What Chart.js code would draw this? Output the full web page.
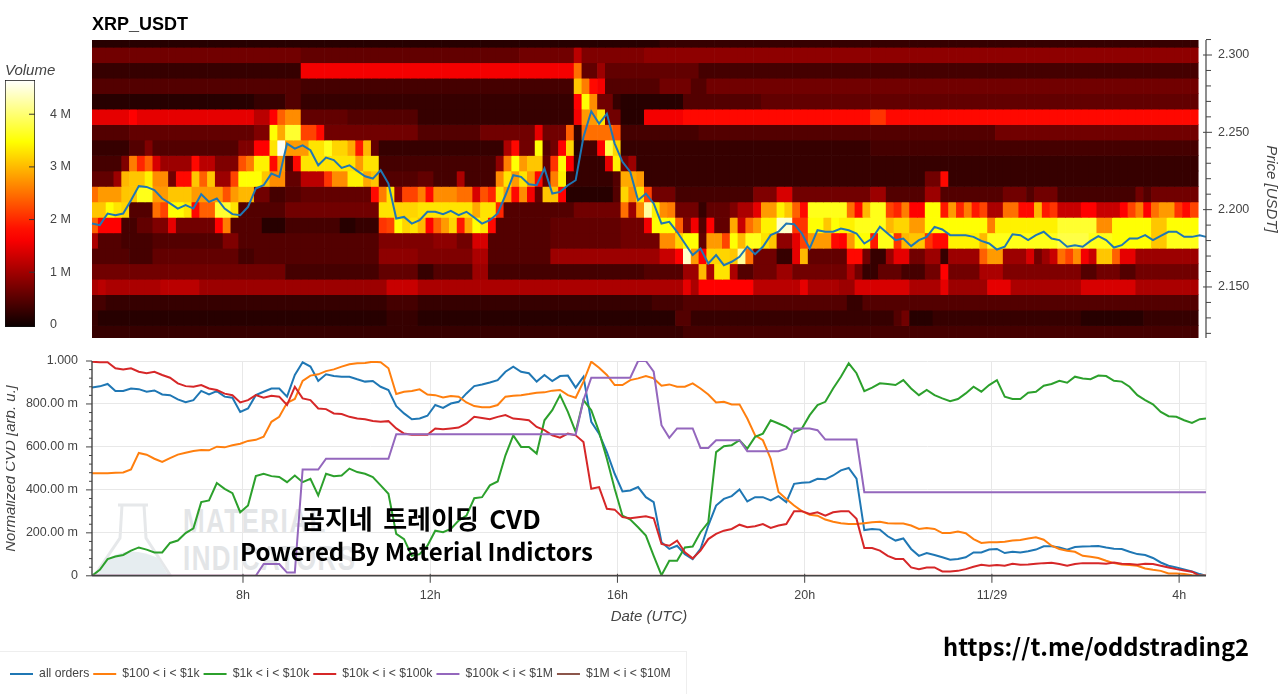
<!DOCTYPE html>
<html>
<head>
<meta charset="utf-8">
<title>XRP_USDT</title>
<script src="https://cdn.jsdelivr.net/npm/chart.js@4"></script>
<style>
  html, body { margin: 0; padding: 0; background: #fff; }
  body { width: 1280px; height: 694px; overflow: hidden; position: relative; font-family: "Liberation Sans", sans-serif; }
  canvas { position: absolute; }
  .label { position: absolute; white-space: nowrap; color: #000; }
  #title { left: 92px; top: 14px; font-size: 18px; font-weight: bold; }
  #legendBox { position: absolute; left: -2px; top: 651px; width: 687px; height: 60px; border: 1px solid #eee; }
  .mark { color: #e3e5e7; font-weight: bold; font-size: 35px; letter-spacing: 2px; transform: scaleX(0.74); transform-origin: left top; }
  .caption { font-family: "Noto Sans CJK KR", "Noto Sans", sans-serif; font-weight: 700; }
</style>
</head>
<body>
<div id="legendBox"></div>
<svg style="position:absolute;left:92px;top:500px" width="90" height="78">
  <path d="M26 5 L56 5 M30 5 L28 38 L3 75 L78 75 L54 38 L52 5" fill="none" stroke="#e6e8ea" stroke-width="3"/>
  <path d="M14 60 Q36 44 66 58 L76 75 L6 75 Z" fill="#e6edf0"/>
</svg>
<div class="label mark" style="left:183px;top:501px">MATERIAL</div>
<div class="label mark" style="left:183px;top:538px">INDICATORS</div>

<canvas id="volumeBar" style="left:5px;top:60px" width="90" height="290"></canvas>
<canvas id="heatChart" style="left:0;top:30px" width="1280" height="320"></canvas>
<canvas id="cvdChart" style="left:6px;top:350px" width="1274" height="344"></canvas>

<div id="title" class="label">XRP_USDT</div>
<div class="label caption" style="left:301px;top:499px;font-size:26px;word-spacing:4.5px">곰지네 트레이딩 CVD</div>
<div class="label caption" style="left:240px;top:533px;font-size:24px">Powered By Material Indictors</div>
<div class="label caption" style="left:943px;top:629px;font-size:23.7px">https://t.me/oddstrading2</div>

<script>
// ================================
// heatmap rows, runs of [volume in 0.1 M, number of 10 min columns]
// ================================
const rowPrices = [2.31, 2.30, 2.29, 2.28, 2.27, 2.26, 2.25, 2.24, 2.23, 2.22, 2.21, 2.20, 2.19, 2.18, 2.17, 2.16, 2.15, 2.14, 2.13, 2.12];

const row231 = [[2,73],[3,69]];
const row230 = [[7,27],[6,28],[7,7],[12,1],[8,8],[9,71]];
const row229 = [[3,27],[16,35],[25,1],[6,2],[10,1],[6,12],[4,64]];
const row228 = [[5,27],[4,35],[31,1],[26,1],[18,1],[16,1],[5,7],[7,4],[5,2],[7,63]];
const row227 = [[2,21],[3,4],[5,2],[3,35],[17,1],[35,1],[27,1],[7,2],[3,1],[2,8],[5,10],[6,56]];
const row226 = [[15,5],[17,1],[15,15],[12,2],[17,1],[24,1],[27,2],[6,6],[5,9],[3,20],[16,1],[28,2],[33,1],[7,2],[2,3],[16,5],[18,24],[21,2],[18,40]];
const row225 = [[5,5],[6,16],[8,2],[35,1],[29,1],[37,2],[22,2],[18,1],[7,12],[5,8],[7,7],[15,1],[7,3],[24,1],[3,1],[25,4],[23,1],[4,10],[5,38],[7,26]];
const row224 = [[3,5],[5,2],[8,1],[5,11],[8,2],[17,2],[33,1],[46,1],[28,3],[33,2],[36,1],[32,2],[29,1],[19,1],[30,1],[6,1],[3,5],[3,11],[11,1],[18,1],[7,2],[35,1],[5,1],[7,1],[17,1],[32,1],[2,1],[4,2],[17,1],[38,1],[32,1],[3,32],[4,42]];
const row223 = [[4,4],[8,1],[26,1],[20,1],[24,1],[14,1],[10,4],[18,1],[12,2],[8,3],[23,1],[26,1],[34,2],[18,1],[28,1],[5,1],[18,1],[33,7],[28,1],[33,2],[4,5],[4,10],[9,1],[26,1],[35,1],[28,1],[31,2],[6,1],[21,1],[35,1],[17,1],[3,4],[15,1],[34,1],[7,1],[10,1],[3,72]];
const row222 = [[6,3],[10,1],[30,1],[31,2],[34,1],[27,2],[7,1],[18,2],[31,1],[24,1],[31,1],[10,2],[22,1],[35,3],[31,1],[27,2],[6,2],[12,3],[21,1],[27,2],[34,2],[29,1],[31,1],[5,5],[6,2],[4,3],[11,1],[4,4],[27,1],[33,1],[28,1],[33,1],[28,1],[18,1],[6,1],[26,1],[34,1],[4,1],[3,5],[5,1],[29,2],[28,1],[3,36],[7,2],[18,1],[3,32]];
const row221 = [[25,1],[28,3],[31,2],[36,2],[28,2],[31,3],[28,4],[23,1],[28,1],[30,2],[7,2],[4,2],[5,2],[6,9],[18,1],[26,1],[33,1],[9,1],[22,2],[26,1],[18,1],[27,3],[25,2],[14,1],[23,1],[20,1],[33,1],[28,1],[18,1],[27,1],[16,1],[6,1],[31,2],[17,1],[2,6],[5,1],[32,1],[27,1],[33,1],[22,1],[7,3],[4,10],[8,3],[14,2],[7,10],[10,2],[5,5],[10,2],[5,8],[7,3],[5,1],[7,3],[4,10],[7,1],[5,1],[7,6]];
const row220 = [[31,2],[35,1],[33,1],[32,1],[5,3],[25,1],[22,1],[35,2],[33,1],[18,1],[24,2],[37,2],[33,1],[5,6],[7,12],[33,1],[33,1],[32,3],[33,7],[29,1],[33,2],[20,1],[5,9],[7,6],[25,1],[10,1],[27,1],[42,1],[34,1],[27,1],[26,1],[7,3],[3,1],[6,3],[8,1],[11,2],[15,1],[28,2],[34,1],[31,1],[24,1],[18,1],[36,4],[36,1],[25,1],[18,1],[30,1],[36,2],[22,1],[20,1],[26,1],[17,2],[35,2],[19,1],[28,1],[20,1],[26,1],[19,1],[22,1],[11,2],[25,2],[18,2],[30,1],[19,1],[21,1],[13,3],[17,2],[13,3],[17,1],[22,1],[26,1],[17,1],[25,1],[28,2],[21,1],[18,1],[22,1]];
const row219 = [[24,1],[17,3],[4,2],[6,2],[8,2],[15,1],[7,5],[17,1],[26,1],[5,4],[2,3],[4,7],[2,2],[3,3],[21,1],[22,1],[35,1],[32,1],[33,1],[30,1],[17,1],[24,1],[28,1],[32,1],[19,1],[29,1],[35,1],[33,1],[18,1],[5,7],[6,9],[7,3],[16,1],[35,3],[24,1],[8,1],[16,1],[5,1],[17,1],[6,2],[29,1],[13,1],[25,1],[28,1],[34,2],[44,2],[21,2],[35,2],[31,1],[35,1],[34,2],[36,4],[30,1],[32,2],[28,2],[35,8],[26,1],[34,8],[37,5],[27,2],[35,5],[31,2],[35,4]];
const row218 = [[11,1],[5,3],[4,4],[5,9],[8,2],[5,18],[8,5],[8,2],[9,3],[7,2],[14,2],[5,8],[6,9],[7,5],[27,2],[32,1],[35,2],[6,1],[28,2],[22,1],[35,1],[30,1],[36,2],[33,1],[31,1],[9,2],[15,1],[22,1],[28,3],[18,1],[17,1],[28,1],[35,2],[19,1],[36,2],[21,1],[30,1],[31,2],[21,1],[18,2],[34,4],[30,1],[36,9],[38,4],[36,3],[35,5],[31,2],[36,4]];
const row217 = [[5,5],[4,3],[6,11],[4,2],[5,16],[9,5],[8,7],[11,2],[5,8],[10,14],[13,2],[17,1],[44,1],[28,1],[17,1],[32,3],[31,1],[42,1],[25,1],[7,3],[3,2],[15,1],[30,1],[6,4],[6,1],[18,2],[7,1],[3,2],[10,1],[15,2],[7,2],[10,2],[3,1],[10,4],[24,1],[28,2],[10,3],[14,1],[7,1],[10,1],[13,1],[25,1],[22,1],[27,1],[16,1],[13,1],[31,2],[24,1],[15,2],[10,8]];
const row216 = [[7,25],[4,12],[6,5],[3,2],[5,5],[10,2],[4,20],[5,5],[10,2],[30,1],[11,1],[33,2],[11,1],[5,2],[7,3],[10,2],[7,6],[7,1],[11,1],[7,1],[3,2],[6,3],[4,3],[7,2],[17,1],[7,4],[11,3],[8,10],[5,2],[7,3],[5,2],[7,8]];
const row215 = [[11,1],[12,1],[11,7],[12,5],[10,24],[13,4],[11,34],[15,1],[11,1],[17,7],[12,6],[15,1],[11,4],[10,2],[14,7],[11,4],[15,1],[10,5],[15,3],[11,9],[14,7],[11,8]];
const row214 = [[4,2],[3,36],[4,4],[3,30],[4,4],[5,20],[5,1],[3,2],[5,43]];
const row213 = [[3,1],[2,37],[3,4],[2,33],[5,2],[3,19],[3,7],[5,1],[7,1],[2,3],[3,10],[3,9],[2,8],[3,7]];
const row212 = [[3,76],[4,66]];

const volumeRows = [row231, row230, row229, row228, row227, row226, row225, row224, row223, row222, row221, row220, row219, row218, row217, row216, row215, row214, row213, row212];

// ================================
// line series, one value per 10 min column plus the right edge
// ================================
const priceLine = [2.1910,2.1900,2.1975,2.1964,2.1975,2.2061,2.2152,2.2147,2.2126,2.2072,2.2040,2.2007,2.2029,2.2007,2.2100,2.2050,2.2072,2.2007,2.1971,2.1964,2.2018,2.2137,2.2158,2.2233,2.2212,2.2427,2.2395,2.2416,2.2384,2.2287,2.2337,2.2320,2.2270,2.2287,2.2251,2.2216,2.2201,2.2255,2.2169,2.1943,2.1953,2.1910,2.1932,2.1986,2.1986,2.1971,2.1992,2.1965,2.1986,2.1949,2.1910,2.1932,2.1975,2.2093,2.2223,2.2212,2.2164,2.2158,2.2266,2.2104,2.2115,2.2158,2.2190,2.2470,2.2636,2.2556,2.2621,2.2427,2.2309,2.2244,2.2061,2.2104,2.2040,2.1910,2.1921,2.1857,2.1781,2.1706,2.1749,2.1652,2.1706,2.1641,2.1663,2.1695,2.1760,2.1712,2.1760,2.1835,2.1857,2.1910,2.1906,2.1846,2.1749,2.1867,2.1857,2.1857,2.1878,2.1867,2.1846,2.1781,2.1813,2.1889,2.1846,2.1803,2.1813,2.1764,2.1803,2.1824,2.1889,2.1872,2.1835,2.1835,2.1835,2.1824,2.1798,2.1781,2.1742,2.1760,2.1841,2.1835,2.1803,2.1835,2.1857,2.1813,2.1803,2.1760,2.1770,2.1760,2.1798,2.1829,2.1803,2.1755,2.1770,2.1813,2.1813,2.1835,2.1803,2.1831,2.1857,2.1857,2.1824,2.1824,2.1835,2.1824];

const cvdAll = [877,882,893,860,860,872,869,857,863,844,841,821,808,818,861,844,860,834,829,763,779,841,857,872,872,834,935,994,974,907,938,930,927,927,915,904,907,880,865,790,756,729,732,745,795,782,802,810,849,883,891,900,911,950,974,950,943,904,935,907,930,932,876,927,717,662,576,475,393,397,413,366,343,156,125,140,101,78,125,234,327,358,371,402,346,366,366,351,371,343,428,433,436,452,449,467,491,502,452,213,218,215,184,164,174,125,93,106,97,86,75,78,86,109,109,122,125,106,112,109,114,122,137,137,132,122,134,136,137,139,132,126,125,112,101,97,83,62,47,39,30,20,8,0];
const cvd100 = [478,478,478,480,481,495,572,564,545,530,548,564,573,581,586,584,601,598,608,615,628,633,648,717,740,805,823,907,932,938,953,961,974,985,989,991,997,994,966,846,857,860,868,844,841,830,837,834,807,790,785,785,795,834,838,841,846,852,854,862,865,841,829,904,997,969,935,888,888,911,919,930,919,885,891,880,880,896,872,844,807,810,798,798,732,654,631,545,390,358,327,301,284,280,262,252,245,241,241,245,249,252,245,243,243,234,218,223,218,199,199,206,198,171,153,156,156,159,164,167,174,179,168,140,125,117,112,93,89,83,70,59,53,50,47,34,28,23,11,11,8,3,0,0];
const cvd1k = [0,28,78,90,97,117,132,122,109,109,153,164,199,221,343,351,432,405,385,296,327,464,475,464,460,436,467,436,452,374,475,464,467,499,483,475,460,421,382,195,171,93,101,140,210,203,218,257,280,361,366,421,439,561,654,600,600,569,724,771,841,763,670,818,771,670,545,405,280,262,226,187,93,3,70,70,132,136,203,249,576,603,608,631,592,647,662,724,709,693,667,686,748,795,810,872,927,989,943,860,876,896,893,888,911,872,841,865,841,826,813,823,849,880,857,888,911,834,823,823,852,857,885,893,908,899,927,919,915,932,930,908,904,880,841,818,798,763,743,740,724,712,729,732];
const cvd10k = [997,994,994,966,960,966,950,943,950,935,922,896,883,880,888,872,865,848,841,807,818,841,829,838,834,795,880,826,818,779,776,756,753,740,732,729,721,717,720,686,662,657,657,657,686,682,686,690,709,740,735,729,740,748,732,729,724,693,678,654,643,662,654,623,405,413,312,308,273,268,273,277,268,148,140,164,109,81,117,171,195,210,218,238,226,231,241,223,234,241,301,301,288,296,280,296,301,301,265,129,129,117,93,78,78,39,31,39,39,20,20,23,31,42,51,47,50,47,56,51,53,56,59,61,55,47,55,59,59,58,56,62,56,55,51,56,55,47,39,31,25,19,0,0];
const cvd100k = [0,0,0,0,0,0,0,0,0,0,0,0,0,0,0,0,0,0,0,0,0,0,55,55,55,15,15,495,495,495,545,545,545,545,545,545,545,545,545,659,659,659,659,659,659,659,659,659,659,659,659,659,659,659,659,659,659,659,659,659,659,659,657,818,922,922,922,922,922,922,1000,1000,950,701,642,686,686,686,595,595,631,631,631,631,580,580,580,580,580,592,686,686,686,678,634,634,634,634,634,389,389,389,389,389,389,389,389,389,389,389,389,389,389,389,389,389,389,389,389,389,389,389,389,389,389,389,389,389,389,389,389,389,389,389,389,389,389,389,389,389,389,389,389,389];
const cvd1m = [0, 0];

const seriesNames = ["all orders", "$100 < i < $1k", "$1k < i < $10k", "$10k < i < $100k", "$100k < i < $1M", "$1M < i < $10M"];
const seriesValues = [cvdAll, cvd100, cvd1k, cvd10k, cvd100k, cvd1m];
const seriesColors = ["#1f77b4", "#ff7f0e", "#2ca02c", "#d62728", "#9467bd", "#8c564b"];

const volumeTicks = [0, 1, 2, 3, 4];
const priceTicks = [2.30, 2.25, 2.20, 2.15];
const cvdTicks = [0, 200, 400, 600, 800, 1000];
const hourTicks = [8, 12, 16, 20, 24, 28];

// hours since 11/28 0h
const startHour = 4.774;
const endHour = 28.574;
const times = priceLine.map((_, i) => (i < 143 ? startHour + i / 6 : endHour));

const TEXT = "#444";
const AXIS_FONT = { family: "'Liberation Sans', sans-serif", size: 12.5 };
const LEGEND_FONT = { family: "'Liberation Sans', sans-serif", size: 12.2 };
const TITLE_FONT = { family: "'Liberation Sans', sans-serif", size: 15, style: "italic", weight: "normal" };
const VOLUME_MAX = 4.65;

Chart.defaults.animation = false;
Chart.defaults.events = [];
Chart.defaults.responsive = false;
Chart.defaults.plugins.tooltip.enabled = false;

// black > red > yellow > white
function hot(f) {
  const r = Math.min(1, 0.04 + f / 0.375);
  const g = Math.max(0, Math.min(1, (f - 0.375) / 0.375));
  const b = Math.max(0, Math.min(1, (f - 0.75) / 0.25));
  return `rgb(${Math.round(r * 255)},${Math.round(g * 255)},${Math.round(b * 255)})`;
}

function expandRuns(runs) {
  const out = [];
  runs.forEach(([v, n]) => { for (let i = 0; i < n; i++) out.push(v); });
  return out;
}

function line(ctx, x1, y1, x2, y2, color, width) {
  ctx.strokeStyle = color;
  ctx.lineWidth = width;
  ctx.beginPath();
  ctx.moveTo(x1, y1);
  ctx.lineTo(x2, y2);
  ctx.stroke();
}

// tick padding also pads the plot area, keep the plot at its fixed place
function fixWidth(w) {
  return s => { s.width = w; s.paddingTop = 0; s.paddingBottom = 0; };
}

// ================================
// colour bar
// ================================
new Chart(document.getElementById("volumeBar"), {
  type: "bar",
  data: {
    labels: [""],
    datasets: [{
      data: [[-0.04, VOLUME_MAX]],
      barPercentage: 1,
      categoryPercentage: 1,
      borderColor: "#111",
      borderWidth: 1,
      borderSkipped: false,
      backgroundColor(ctx) {
        const area = ctx.chart.chartArea;
        if (!area) return "#000";
        const g = ctx.chart.ctx.createLinearGradient(0, area.bottom, 0, area.top);
        for (let f = 0; f <= 1.0001; f += 0.05) g.addColorStop(Math.min(f, 1), hot(f));
        return g;
      }
    }]
  },
  options: {
    layout: { padding: { top: 0, bottom: 23 } },
    plugins: {
      legend: { display: false },
      title: {
        display: true, text: "Volume", align: "start", color: TEXT, font: TITLE_FONT,
        padding: { top: 2, bottom: 0 }
      }
    },
    scales: {
      x: { display: false },
      y: {
        position: "right",
        min: -0.04,
        max: VOLUME_MAX,
        afterBuildTicks(s) { s.ticks = volumeTicks.map(v => ({ value: v })); },
        afterFit: fixWidth(60),
        grid: { display: false, drawTicks: false },
        border: { display: false },
        ticks: {
          color: TEXT, font: AXIS_FONT, padding: 15, autoSkip: false,
          callback: v => (v === 0 ? "0" : v + " M")
        }
      }
    }
  },
  plugins: [{
    id: "barTicks",
    afterDraw(chart) {
      const { ctx, chartArea, scales } = chart;
      volumeTicks.slice(1).forEach(v => {
        const y = scales.y.getPixelForValue(v);
        line(ctx, chartArea.right - 6, y, chartArea.right, y, "#333", 1);
      });
    }
  }]
});

// ================================
// heatmap + price
// ================================
const heatDatasets = volumeRows.map((runs, r) => {
  const values = expandRuns(runs);
  return {
    type: "bar",
    order: 1,
    grouped: false,
    barPercentage: 1,
    categoryPercentage: 1,
    data: values.map((_, i) => ({ x: startHour + (i + 0.3) / 6, y: [rowPrices[r] - 0.005, rowPrices[r] + 0.005] })),
    backgroundColor: values.map(v => hot((v / 10) / VOLUME_MAX))
  };
});

new Chart(document.getElementById("heatChart"), {
  type: "bar",
  data: {
    datasets: [
      ...heatDatasets,
      {
        type: "line",
        order: 0,
        data: times.map((t, i) => ({ x: t, y: priceLine[i] })),
        borderColor: seriesColors[0],
        borderWidth: 2,
        pointRadius: 0,
        tension: 0,
        clip: false
      }
    ]
  },
  options: {
    layout: { padding: { left: 92, top: 10, bottom: 12, right: 0 } },
    plugins: { legend: { display: false } },
    scales: {
      x: { type: "linear", display: false, min: startHour, max: endHour, offset: false },
      y: {
        type: "linear",
        position: "right",
        min: 2.117,
        max: 2.3097,
        afterBuildTicks(s) { s.ticks = priceTicks.map(v => ({ value: v })); },
        afterFit: fixWidth(74),
        grid: { display: false, drawTicks: false },
        border: { display: false },
        ticks: { color: TEXT, font: AXIS_FONT, padding: 12, autoSkip: false, callback: v => v.toFixed(3) },
        title: { display: true, text: "Price [USDT]", color: TEXT, font: TITLE_FONT, padding: { top: 0, bottom: 6 } }
      }
    }
  },
  plugins: [{
    id: "priceAxis",
    afterDraw(chart) {
      const { ctx, chartArea, scales } = chart;
      const x = chartArea.right;
      line(ctx, x, chartArea.top, x, chartArea.bottom, TEXT, 1.2);
      rowPrices.forEach(p => {
        const y = scales.y.getPixelForValue(p);
        const major = priceTicks.some(v => Math.abs(v - p) < 0.0001);
        line(ctx, major ? x - 3 : x, y, x + (major ? 6 : 5), y, TEXT, 1);
      });
    }
  }]
});

// ================================
// CVD lines
// ================================
new Chart(document.getElementById("cvdChart"), {
  type: "line",
  data: {
    datasets: seriesValues.map((vals, s) => ({
      label: seriesNames[s],
      order: seriesValues.length - s,
      data: vals.map((v, i) => ({
        x: vals === cvd1m ? [startHour, endHour][i] : times[i],
        y: v
      })),
      borderColor: seriesColors[s],
      backgroundColor: seriesColors[s],
      borderWidth: 2,
      pointRadius: 0,
      tension: 0
    }))
  },
  options: {
    layout: { padding: { left: 0, top: 11, right: 74, bottom: 4 } },
    plugins: {
      legend: {
        position: "bottom",
        align: "start",
        labels: {
          usePointStyle: true,
          pointStyle: "line",
          pointStyleWidth: 23,
          padding: 4,
          color: TEXT,
          font: LEGEND_FONT,
          sort: (a, b) => a.datasetIndex - b.datasetIndex
        }
      }
    },
    scales: {
      x: {
        type: "linear",
        min: startHour,
        max: endHour,
        afterBuildTicks(s) { s.ticks = hourTicks.map(v => ({ value: v })); },
        afterFit(s) { s.height = 88; s.paddingLeft = 0; s.paddingRight = 0; },
        grid: { color: "#e8e8e8", drawTicks: false },
        border: { display: false },
        ticks: {
          color: TEXT, font: AXIS_FONT, padding: 12, autoSkip: false, maxRotation: 0,
          callback: v => (v === 24 ? "11/29" : (v % 24) + "h")
        },
        title: { display: true, text: "Date (UTC)", color: TEXT, font: TITLE_FONT, padding: { top: 0, bottom: 38 } }
      },
      y: {
        min: 0,
        max: 1000,
        afterBuildTicks(s) { s.ticks = cvdTicks.map(v => ({ value: v })); },
        afterFit: fixWidth(86),
        grid: { color: "#e8e8e8", drawTicks: false },
        border: { display: false },
        ticks: {
          color: TEXT, font: AXIS_FONT, padding: 14, autoSkip: false,
          callback: v => (v === 0 ? "0" : v === 1000 ? "1.000" : v.toFixed(2) + " m")
        },
        title: { display: true, text: "Normalized CVD [arb. u.]", color: TEXT, font: TITLE_FONT, padding: { top: -4, bottom: 0 } }
      }
    }
  },
  plugins: [{
    id: "cvdAxes",
    beforeDatasetsDraw(chart) {
      const { ctx, chartArea } = chart;
      line(ctx, chartArea.right, chartArea.top, chartArea.right, chartArea.bottom, "#e8e8e8", 1);
    },
    afterDraw(chart) {
      const { ctx, chartArea, scales } = chart;
      line(ctx, chartArea.left, chartArea.top, chartArea.left, chartArea.bottom, TEXT, 1.4);
      line(ctx, chartArea.left, chartArea.bottom, chartArea.right, chartArea.bottom, TEXT, 1.4);
      for (let v = 0; v <= 1000; v += 40) {
        const y = scales.y.getPixelForValue(v);
        line(ctx, chartArea.left - (v % 200 === 0 ? 6 : 3), y, chartArea.left, y, TEXT, 1);
      }
      hourTicks.forEach(h => {
        const x = scales.x.getPixelForValue(h);
        line(ctx, x, chartArea.bottom - 2, x, chartArea.bottom + 7, TEXT, 1);
      });
    }
  }]
});
</script>
</body>
</html>
